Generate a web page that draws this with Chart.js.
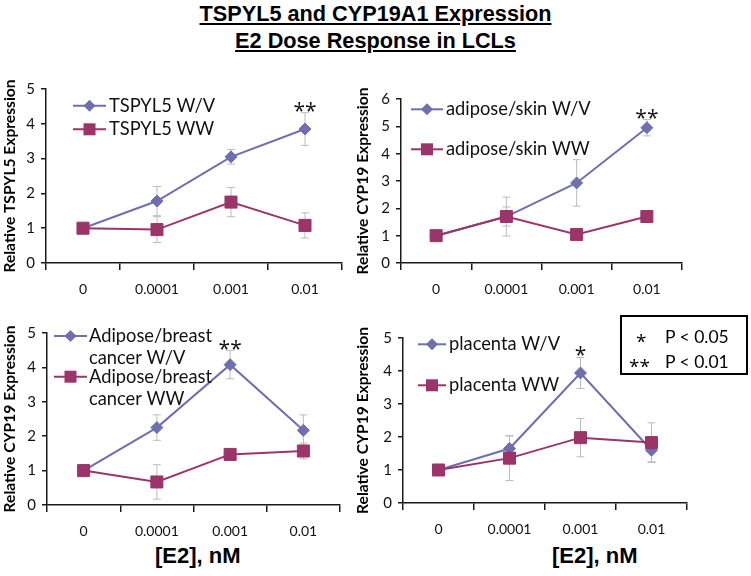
<!DOCTYPE html>
<html>
<head>
<meta charset="utf-8">
<script src="https://cdn.jsdelivr.net/npm/chart.js@4.4.0/dist/chart.umd.min.js"></script>
<style>
  body { margin: 0; background: #fff; }
  #page { position: relative; width: 751px; height: 576px; overflow: hidden; background: #fff; }
  #title {
    position: absolute; left: 0; top: 0; width: 751px; text-align: center;
    font: bold 21.7px "Liberation Sans", Arial, sans-serif; line-height: 27px;
    text-decoration: underline; color: #000;
  }
  canvas { position: absolute; }
  .xtitle { position: absolute; font: bold 22px "Liberation Sans", Arial, sans-serif; color: #000; }
  #pbox {
    position: absolute; left: 620px; top: 315px; width: 124px; height: 56px;
    border: 2px solid #000; font: 17.5px Lato, sans-serif; color: #000;
  }
  #pbox div { position: absolute; line-height: 20px; }
  #pbox .st { font: 19px "Open Sans", sans-serif; }
</style>
</head>
<body>
<div id="page">
  <div id="title">TSPYL5 and CYP19A1 Expression<br>E2 Dose Response in LCLs</div>
  <canvas id="c1" width="353" height="240" style="left:0;top:60px"></canvas>
  <canvas id="c2" width="398" height="240" style="left:353px;top:60px"></canvas>
  <canvas id="c3" width="353" height="242" style="left:0;top:300px"></canvas>
  <canvas id="c4" width="398" height="242" style="left:353px;top:300px"></canvas>
  <div class="xtitle" style="left:155px;top:543px">[E2], nM</div>
  <div class="xtitle" style="left:552px;top:543px">[E2], nM</div>
  <div id="pbox">
    <div class="st" style="left:14px;top:11px">*</div><div style="left:43px;top:10px">P &lt; 0.05</div>
    <div class="st" style="left:7px;top:36px">**</div><div style="left:43px;top:35px">P &lt; 0.01</div>
  </div>
</div>
<script>
// --- data ---
const doses = ['0', '0.0001', '0.001', '0.01'];

const tspylWV = [1.0, 1.78, 3.05, 3.85];
const tspylWVErr = [0.03, 0.42, 0.21, 0.47];
const tspylWW = [1.0, 0.96, 1.75, 1.08];
const tspylWWErr = [0.03, 0.37, 0.42, 0.36];
const tspylStars = ['', '', '', '**'];

const skinWV = [1.0, 1.7, 2.93, 4.95];
const skinWVErr = [0.05, 0.71, 0.85, 0.3];
const skinWW = [1.0, 1.7, 1.04, 1.7];
const skinWWErr = [0.04, 0.35, 0.05, 0.06];
const skinStars = ['', '', '', '**'];

const breastWV = [1.0, 2.25, 4.08, 2.17];
const breastWVErr = [0.03, 0.37, 0.41, 0.45];
const breastWW = [1.0, 0.67, 1.47, 1.57];
const breastWWErr = [0.03, 0.5, 0.05, 0.23];
const breastStars = ['', '', '**', ''];

const placentaWV = [1.0, 1.65, 3.94, 1.6];
const placentaWVErr = [0.03, 0.38, 0.47, 0.35];
const placentaWW = [1.0, 1.36, 1.98, 1.83];
const placentaWWErr = [0.03, 0.68, 0.58, 0.6];
const placentaStars = ['', '', '*', ''];

const wvColor = '#6f6faf';
const wwColor = '#9b3469';
const axisColor = '#1a1a1a';

Chart.defaults.font.family = 'Lato, sans-serif';
Chart.defaults.color = '#111';

// error bars behind the lines
const errorBars = {
  id: 'errorBars',
  beforeDatasetsDraw(chart) {
    const { ctx, scales: { x, y } } = chart;
    ctx.save();
    ctx.strokeStyle = '#bcbcbc';
    ctx.lineWidth = 1;
    chart.data.datasets.forEach(ds => {
      ds.data.forEach((v, i) => {
        const e = ds.err[i];
        if (!e) return;
        const px = x.getPixelForValue(i);
        const top = y.getPixelForValue(v + e);
        const bot = y.getPixelForValue(v - e);
        ctx.beginPath();
        ctx.moveTo(px, top); ctx.lineTo(px, bot);
        ctx.moveTo(px - 4, top); ctx.lineTo(px + 4, top);
        ctx.moveTo(px - 4, bot); ctx.lineTo(px + 4, bot);
        ctx.stroke();
      });
    });
    ctx.restore();
  }
};

// significance stars above the W/V error bar
const starMarks = {
  id: 'starMarks',
  afterDatasetsDraw(chart, args, opts) {
    const { ctx, scales: { x, y } } = chart;
    const ds = chart.data.datasets[0];
    ctx.save();
    ctx.font = '21px "Open Sans", sans-serif';
    ctx.fillStyle = '#111';
    ctx.textAlign = 'center';
    ctx.textBaseline = 'alphabetic';
    opts.stars.forEach((s, i) => {
      if (!s) return;
      ctx.fillText(s, x.getPixelForValue(i), y.getPixelForValue(ds.data[i] + ds.err[i]) + 5);
    });
    ctx.restore();
  }
};

function marker(ctx, style, cx, cy, color) {
  ctx.fillStyle = color;
  ctx.beginPath();
  if (style === 'rectRot') {
    ctx.moveTo(cx - 6, cy); ctx.lineTo(cx, cy - 6); ctx.lineTo(cx + 6, cy); ctx.lineTo(cx, cy + 6);
  } else {
    ctx.rect(cx - 6, cy - 6, 12, 12);
  }
  ctx.closePath();
  ctx.fill();
}

// legend drawn inside the plot, Excel style
const innerLegend = {
  id: 'innerLegend',
  afterDraw(chart, args, opts) {
    const { ctx } = chart;
    ctx.save();
    ctx.font = '18.3px Lato, sans-serif';
    ctx.textBaseline = 'middle';
    chart.data.datasets.forEach((ds, k) => {
      const yy = opts.ys[k];
      ctx.strokeStyle = ds.borderColor;
      ctx.lineWidth = 2;
      ctx.beginPath();
      ctx.moveTo(opts.x1, yy); ctx.lineTo(opts.x2, yy);
      ctx.stroke();
      marker(ctx, ds.pointStyle, (opts.x1 + opts.x2) / 2, yy, ds.borderColor);
      ctx.fillStyle = '#111';
      const lines = [].concat(ds.label);
      lines.forEach((t, j) => ctx.fillText(t, opts.tx, yy + j * opts.lh));
    });
    ctx.restore();
  }
};

function makePanel(id, area, yTitle, yMax, names, wv, wvErr, ww, wwErr, stars, legend) {
  const canvas = document.getElementById(id);
  const H = canvas.height, W = canvas.width;
  return new Chart(canvas, {
    type: 'line',
    data: {
      labels: doses,
      datasets: [
        { label: names[0], data: wv, err: wvErr, borderColor: wvColor, backgroundColor: wvColor,
          borderWidth: 2, pointStyle: 'rectRot', pointRadius: 6, pointBorderWidth: 1, order: 1 },
        { label: names[1], data: ww, err: wwErr, borderColor: wwColor, backgroundColor: wwColor,
          borderWidth: 2, pointStyle: 'rect', pointRadius: 8.5, pointBorderWidth: 1, order: 0 }
      ]
    },
    options: {
      responsive: false,
      animation: false,
      layout: { padding: { left: 0, top: area.t, right: W - area.r, bottom: 0 } },
      plugins: {
        legend: { display: false },
        tooltip: { enabled: false },
        starMarks: { stars },
        innerLegend: legend
      },
      scales: {
        x: {
          offset: true,
          grid: { offset: true, drawOnChartArea: false, tickLength: 7, color: axisColor, lineWidth: 1.5 },
          border: { color: axisColor, width: 1.5 },
          ticks: { font: { size: 14 }, color: '#111', padding: 11, maxRotation: 0 },
          afterFit: s => { s.height = H - area.b; }
        },
        y: {
          min: 0, max: yMax,
          grid: { drawOnChartArea: false, tickLength: 5, color: axisColor, lineWidth: 1.5 },
          border: { color: axisColor, width: 1.5 },
          ticks: { stepSize: 1, font: { size: 15 }, color: '#111', padding: 6 },
          title: { display: true, text: yTitle, color: '#000', padding: { top: 1, bottom: 0 },
            font: { size: 15.6, weight: 'bold' } },
          afterFit: s => { s.width = area.l; }
        }
      }
    },
    plugins: [errorBars, starMarks, innerLegend]
  });
}

makePanel('c1', { l: 46, r: 342, t: 29, b: 203 }, 'Relative TSPYL5 Expression', 5,
  ['TSPYL5 W/V', 'TSPYL5 WW'], tspylWV, tspylWVErr, tspylWW, tspylWWErr, tspylStars,
  { x1: 73, x2: 106, tx: 109, ys: [45.7, 69.3], lh: 0 });

makePanel('c2', { l: 48, r: 329, t: 39, b: 203 }, 'Relative CYP19 Expression', 6,
  ['adipose/skin W/V', 'adipose/skin WW'], skinWV, skinWVErr, skinWW, skinWWErr, skinStars,
  { x1: 58, x2: 90, tx: 93, ys: [49.3, 89.3], lh: 0 });

makePanel('c3', { l: 47, r: 340, t: 33, b: 205 }, 'Relative CYP19 Expression', 5,
  [['Adipose/breast', 'cancer W/V'], ['Adipose/breast', 'cancer WW']],
  breastWV, breastWVErr, breastWW, breastWWErr, breastStars,
  { x1: 54, x2: 87, tx: 89, ys: [36, 76.7], lh: 22.3 });

makePanel('c4', { l: 50, r: 334, t: 38, b: 203 }, 'Relative CYP19 Expression', 5,
  ['placenta W/V', 'placenta WW'], placentaWV, placentaWVErr, placentaWW, placentaWWErr, placentaStars,
  { x1: 65, x2: 93, tx: 96, ys: [44.3, 85.3], lh: 0 });
</script>
</body>
</html>
